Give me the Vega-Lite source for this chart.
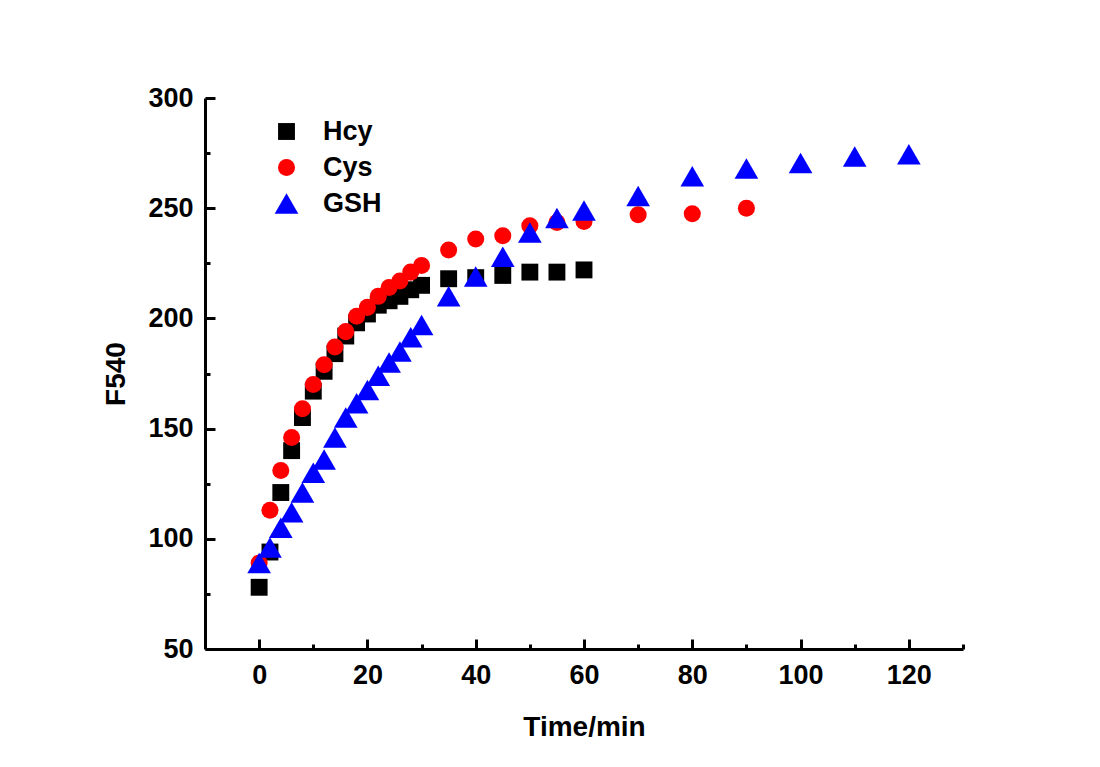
{
  "$schema": "https://vega.github.io/schema/vega-lite/v6.json",
  "width": 758,
  "height": 551,
  "autosize": {"type": "none"},
  "padding": {"left": 205, "top": 98, "right": 137, "bottom": 118},
  "background": "white",
  "config": {"view": {"stroke": null}, "font": "Liberation Sans"},
  "data": {"values": [
    {"t": 0, "F": 78, "s": "Hcy"}, {"t": 2, "F": 94, "s": "Hcy"}, {"t": 4, "F": 121, "s": "Hcy"}, {"t": 6, "F": 140, "s": "Hcy"},
    {"t": 8, "F": 155, "s": "Hcy"}, {"t": 10, "F": 167, "s": "Hcy"}, {"t": 12, "F": 176, "s": "Hcy"}, {"t": 14, "F": 184, "s": "Hcy"},
    {"t": 16, "F": 192, "s": "Hcy"}, {"t": 18, "F": 198, "s": "Hcy"}, {"t": 20, "F": 202, "s": "Hcy"}, {"t": 22, "F": 206, "s": "Hcy"},
    {"t": 24, "F": 208, "s": "Hcy"}, {"t": 26, "F": 210, "s": "Hcy"}, {"t": 28, "F": 213, "s": "Hcy"}, {"t": 30, "F": 215, "s": "Hcy"},
    {"t": 35, "F": 218, "s": "Hcy"}, {"t": 40, "F": 218.5, "s": "Hcy"}, {"t": 45, "F": 219.5, "s": "Hcy"}, {"t": 50, "F": 221, "s": "Hcy"},
    {"t": 55, "F": 221, "s": "Hcy"}, {"t": 60, "F": 222, "s": "Hcy"},
    {"t": 0, "F": 89, "s": "Cys"}, {"t": 2, "F": 113, "s": "Cys"}, {"t": 4, "F": 131, "s": "Cys"}, {"t": 6, "F": 146, "s": "Cys"},
    {"t": 8, "F": 159, "s": "Cys"}, {"t": 10, "F": 170, "s": "Cys"}, {"t": 12, "F": 179, "s": "Cys"}, {"t": 14, "F": 187, "s": "Cys"},
    {"t": 16, "F": 194, "s": "Cys"}, {"t": 18, "F": 201, "s": "Cys"}, {"t": 20, "F": 205, "s": "Cys"}, {"t": 22, "F": 210, "s": "Cys"},
    {"t": 24, "F": 214, "s": "Cys"}, {"t": 26, "F": 217, "s": "Cys"}, {"t": 28, "F": 221, "s": "Cys"}, {"t": 30, "F": 224, "s": "Cys"},
    {"t": 35, "F": 231, "s": "Cys"}, {"t": 40, "F": 236, "s": "Cys"}, {"t": 45, "F": 237.5, "s": "Cys"}, {"t": 50, "F": 242, "s": "Cys"},
    {"t": 55, "F": 243.5, "s": "Cys"}, {"t": 60, "F": 244, "s": "Cys"}, {"t": 70, "F": 247, "s": "Cys"}, {"t": 80, "F": 247.5, "s": "Cys"},
    {"t": 90, "F": 250, "s": "Cys"},
    {"t": 0, "F": 89, "s": "GSH"}, {"t": 2, "F": 96, "s": "GSH"}, {"t": 4, "F": 105, "s": "GSH"}, {"t": 6, "F": 112, "s": "GSH"},
    {"t": 8, "F": 121, "s": "GSH"}, {"t": 10, "F": 130, "s": "GSH"}, {"t": 12, "F": 136, "s": "GSH"}, {"t": 14, "F": 146, "s": "GSH"},
    {"t": 16, "F": 155, "s": "GSH"}, {"t": 18, "F": 161.5, "s": "GSH"}, {"t": 20, "F": 167.5, "s": "GSH"}, {"t": 22, "F": 174, "s": "GSH"},
    {"t": 24, "F": 180, "s": "GSH"}, {"t": 26, "F": 185, "s": "GSH"}, {"t": 28, "F": 191.5, "s": "GSH"}, {"t": 30, "F": 197, "s": "GSH"},
    {"t": 35, "F": 210, "s": "GSH"}, {"t": 40, "F": 219, "s": "GSH"}, {"t": 45, "F": 228, "s": "GSH"}, {"t": 50, "F": 239, "s": "GSH"},
    {"t": 55, "F": 245.5, "s": "GSH"}, {"t": 60, "F": 249, "s": "GSH"}, {"t": 70, "F": 255.5, "s": "GSH"}, {"t": 80, "F": 264.5, "s": "GSH"},
    {"t": 90, "F": 268, "s": "GSH"}, {"t": 100, "F": 270.5, "s": "GSH"}, {"t": 110, "F": 273.5, "s": "GSH"}, {"t": 120, "F": 274.5, "s": "GSH"}
  ]},
  "mark": {"type": "point", "filled": true, "opacity": 1, "strokeWidth": 0},
  "encoding": {
    "x": {
      "field": "t", "type": "quantitative",
      "scale": {"domain": [-10, 130], "nice": false, "zero": false},
      "axis": {
        "title": "Time/min", "titleFontSize": 28, "titleFontWeight": "bold", "titlePadding": 25,
        "values": [0, 10, 20, 30, 40, 50, 60, 70, 80, 90, 100, 110, 120, 130],
        "labelExpr": "datum.value % 20 === 0 ? datum.label : ''",
        "labelFontSize": 27, "labelFontWeight": "bold", "labelColor": "black", "labelPadding": 23,
        "domainColor": "black", "domainWidth": 3, "tickColor": "black", "tickWidth": 3,
        "tickSize": {"condition": {"test": "datum.value % 20 === 0", "value": -10}, "value": -5},
        "grid": false, "titleColor": "black"
      }
    },
    "y": {
      "field": "F", "type": "quantitative",
      "scale": {"domain": [50, 300], "nice": false, "zero": false},
      "axis": {
        "title": "F540", "titleFontSize": 28, "titleFontWeight": "bold", "titlePadding": 17,
        "values": [50, 75, 100, 125, 150, 175, 200, 225, 250, 275, 300],
        "labelExpr": "datum.value % 50 === 0 ? datum.label : ''",
        "labelFontSize": 27, "labelFontWeight": "bold", "labelColor": "black", "labelPadding": 22,
        "domainColor": "black", "domainWidth": 3, "tickColor": "black", "tickWidth": 3,
        "tickSize": {"condition": {"test": "datum.value % 50 === 0", "value": -10}, "value": -5},
        "grid": false, "titleColor": "black"
      }
    },
    "color": {
      "field": "s", "type": "nominal",
      "scale": {"domain": ["Hcy", "Cys", "GSH"], "range": ["#000000", "#ff0000", "#0000ff"]},
      "legend": {
        "title": null, "orient": "none", "legendX": 68, "legendY": 20,
        "labelFontSize": 27, "labelFontWeight": "bold", "labelColor": "black",
        "rowPadding": 8, "labelOffset": 23, "padding": 0, "symbolOpacity": 1, "symbolStrokeWidth": 0
      }
    },
    "shape": {
      "field": "s", "type": "nominal",
      "scale": {"domain": ["Hcy", "Cys", "GSH"], "range": ["square", "circle", "triangle-up"]}
    },
    "size": {
      "field": "s", "type": "nominal",
      "scale": {"type": "ordinal", "domain": ["Hcy", "Cys", "GSH"], "range": [285, 290, 560]}
    }
  }
}
